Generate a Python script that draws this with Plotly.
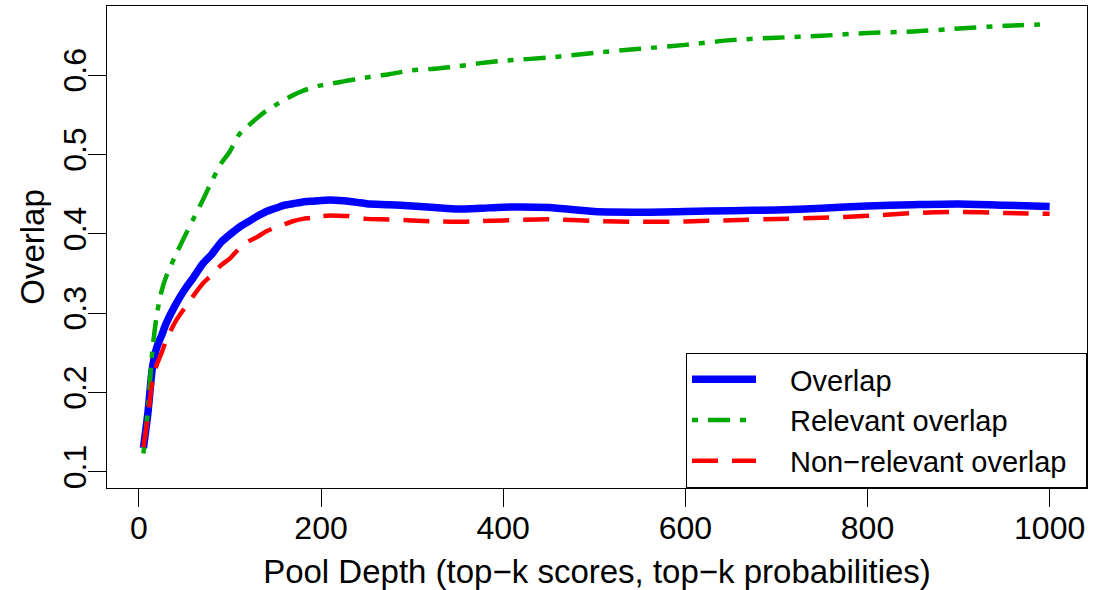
import plotly.graph_objects as go

depth = [5, 10, 15, 20, 25, 30, 40, 50, 60, 70, 80, 90, 100, 110, 120, 130, 140, 150,
         160, 170, 180, 190, 200, 210, 220, 230, 240, 250, 275, 300, 325, 350, 375,
         400, 450, 500, 550, 600, 650, 700, 750, 800, 850, 900, 950, 1000]

overlap = [0.130, 0.175, 0.232, 0.258, 0.272, 0.287, 0.310, 0.329, 0.345, 0.362, 0.374,
           0.389, 0.399, 0.408, 0.415, 0.422, 0.428, 0.432, 0.436, 0.438, 0.440, 0.441,
           0.442, 0.4425, 0.442, 0.441, 0.4395, 0.4378, 0.4365, 0.435, 0.433, 0.431,
           0.432, 0.4335, 0.433, 0.428, 0.4272, 0.428, 0.429, 0.430, 0.432, 0.435,
           0.4365, 0.4375, 0.436, 0.4342]

relevant = [0.123, 0.178, 0.255, 0.300, 0.328, 0.346, 0.372, 0.396, 0.419, 0.442, 0.466,
            0.488, 0.504, 0.525, 0.536, 0.546, 0.555, 0.562, 0.569, 0.575, 0.580, 0.584,
            0.587, 0.589, 0.591, 0.593, 0.595, 0.597, 0.601, 0.606, 0.608, 0.611, 0.615,
            0.618, 0.622, 0.628, 0.633, 0.638, 0.644, 0.647, 0.6495, 0.653, 0.655,
            0.6585, 0.662, 0.664]

nonrelevant = [0.131, 0.170, 0.215, 0.236, 0.250, 0.266, 0.289, 0.306, 0.322, 0.337, 0.348,
               0.360, 0.369, 0.381, 0.390, 0.396, 0.403, 0.408, 0.412, 0.416, 0.4187, 0.420,
               0.422, 0.4228, 0.4225, 0.4222, 0.420, 0.4187, 0.418, 0.4166, 0.4155, 0.415,
               0.416, 0.4168, 0.4183, 0.416, 0.415, 0.4155, 0.417, 0.4185, 0.420, 0.4225,
               0.426, 0.4275, 0.4262, 0.425]

series_names = ["Overlap", "Relevant overlap", "Non\u2212relevant overlap"]
x_ticks = [0, 200, 400, 600, 800, 1000]
y_ticks = [0.1, 0.2, 0.3, 0.4, 0.5, 0.6]

FONT = "Liberation Sans, Arial, Helvetica, sans-serif"
PAD_L = "\u2003"
PAD_R = "\u2002"

fig = go.Figure()
fig.add_trace(go.Scatter(x=depth, y=overlap, mode="lines", name=PAD_L + series_names[0] + PAD_R,
                         line=dict(color="#0000FF", width=7.5, shape="spline", smoothing=0.7)))
fig.add_trace(go.Scatter(x=depth, y=relevant, mode="lines", name=PAD_L + series_names[1] + PAD_R,
                         line=dict(color="#00AA00", width=4.5, dash="6px,10px,22px,10px",
                                   shape="spline", smoothing=0.7)))
fig.add_trace(go.Scatter(x=depth, y=nonrelevant, mode="lines", name=PAD_L + series_names[2] + PAD_R,
                         line=dict(color="#FF0000", width=4.5, dash="26px,14px",
                                   shape="spline", smoothing=0.7)))

fig.update_layout(
    width=1093, height=590,
    margin=dict(l=107, r=6, t=6, b=102),
    paper_bgcolor="white", plot_bgcolor="white",
    font=dict(family=FONT, size=33, color="black"),
    showlegend=True,
    legend=dict(x=1, y=0, xanchor="right", yanchor="bottom", xref="paper", yref="paper",
                bgcolor="white", bordercolor="black", borderwidth=1,
                font=dict(size=29), itemwidth=64, tracegroupgap=0),
    xaxis=dict(range=[-35, 1041], tickvals=x_ticks, ticktext=[str(v) for v in x_ticks],
               showgrid=False, zeroline=False, showline=True, linecolor="black", linewidth=1,
               mirror=True, ticks="outside", ticklen=18, tickcolor="black",
               tickfont=dict(size=32), automargin=False, ticklabelstandoff=-6,
               title=dict(text="Pool Depth (top\u2212k scores, top\u2212k probabilities)",
                          font=dict(size=33), standoff=15)),
    yaxis=dict(range=[0.0795, 0.687], tickvals=y_ticks, ticktext=[f"{v:.1f}" for v in y_ticks],
               showgrid=False, zeroline=False, showline=True, linecolor="black", linewidth=1,
               mirror=True, ticks="outside", ticklen=18, tickcolor="black",
               tickangle=-90, tickfont=dict(size=32), automargin=False, ticklabelstandoff=-11,
               title=dict(text="Overlap", font=dict(size=33), standoff=2)),
)

fig.write_html("out.html", config={"displayModeBar": False},
               post_script="document.body.style.margin='0';document.body.style.padding='0';")
